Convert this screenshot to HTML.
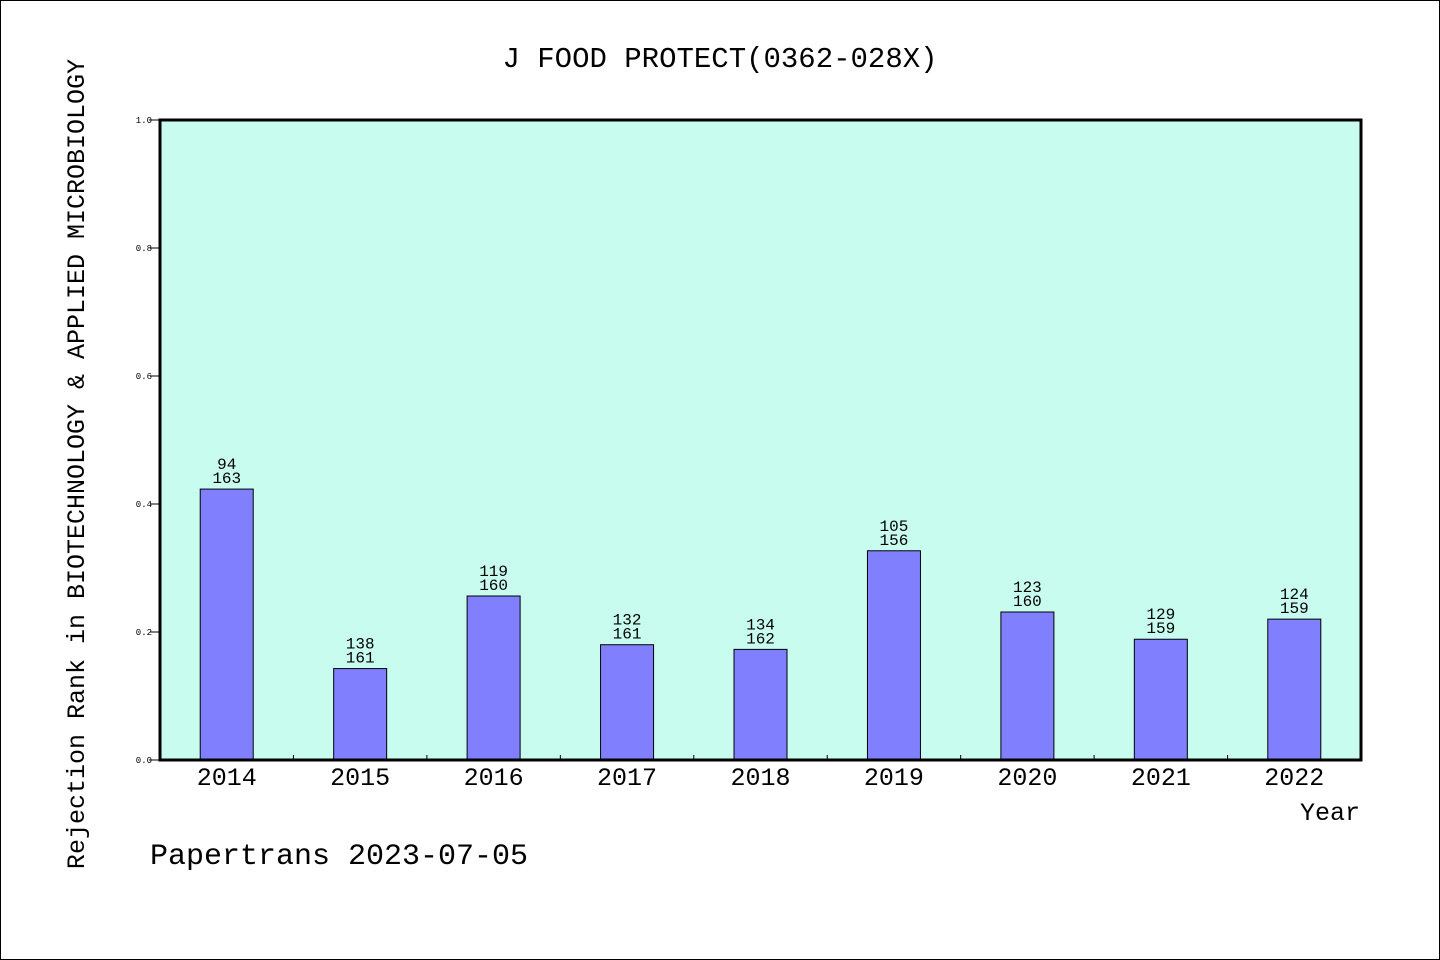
<!DOCTYPE html>
<html><head><meta charset="utf-8"><style>
body{margin:0;background:#fff}
svg{display:block}
text{font-family:"Liberation Mono","WenQuanYi Zen Hei",monospace;fill:#000}
</style></head><body>
<svg id="chart" width="1440" height="960" xmlns="http://www.w3.org/2000/svg">
<rect x="0.5" y="0.5" width="1439" height="959" fill="#fff" stroke="#000"/>
<text x="720" y="67" font-size="29" text-anchor="middle">J FOOD PROTECT(0362-028X)</text>
<rect x="160" y="120" width="1201" height="640" fill="#c8fcef"/>
<g id="yaxis"></g>
<g id="xaxis"></g>
<g id="bars"></g>
<rect x="160" y="120" width="1201" height="640" fill="none" stroke="#000" stroke-width="3"/>
<text x="1360" y="820" font-size="25" text-anchor="end">Year</text>
<text transform="translate(84,464) rotate(-90)" font-size="25" text-anchor="middle">Rejection Rank in BIOTECHNOLOGY &amp; APPLIED MICROBIOLOGY</text>
<text x="150" y="864" font-size="30">Papertrans 2023-07-05</text>
</svg>
<script>
const categories=["2014","2015","2016","2017","2018","2019","2020","2021","2022"];
const ranks=[94,138,119,132,134,105,123,129,124];
const totals=[163,161,160,161,162,156,160,159,159];
const yTicks=[0,0.2,0.4,0.6,0.8,1.0];
const NS="http://www.w3.org/2000/svg";
const X0=160,X1=1361,Y0=760,Y1=120;
const band=(X1-X0)/categories.length;
const xc=i=>X0+band*(i+0.5);
const y=v=>Y0-(Y0-Y1)*v;
function mk(tag,attrs,parent,txt){const e=document.createElementNS(NS,tag);for(const k in attrs)e.setAttribute(k,attrs[k]);if(txt!==undefined)e.textContent=txt;parent.appendChild(e);return e;}
const ya=document.getElementById('yaxis'),xa=document.getElementById('xaxis'),bg=document.getElementById('bars');
yTicks.forEach(t=>{
 const l=mk('line',{x1:X0-10,x2:X0,y1:y(t),y2:y(t),stroke:'#000'},ya);
 
 
 const tx=mk('text',{x:X0-8,y:y(t)+3,'font-size':9,'text-anchor':'end'},ya,t.toFixed(1));
 
 
});
for(let i=1;i<categories.length;i++){
 const l=mk('line',{x1:X0+band*i,x2:X0+band*i,y1:Y0-5,y2:Y0,stroke:'#000'},xa);
 
 
}
categories.forEach((c,i)=>{
 const tx=mk('text',{x:xc(i),y:785,'font-size':25,'text-anchor':'middle'},xa,c);
 
 
 const v=1-ranks[i]/totals[i];
 const b=mk('rect',{x:xc(i)-26.5,y:y(v),width:53,height:Y0-y(v),fill:'#8080ff',stroke:'#000','stroke-width':1},bg);
 
 
 const t1=mk('text',{x:xc(i),y:y(v)-20,'font-size':16,'text-anchor':'middle'},bg,String(ranks[i]));
 
 
 const t2=mk('text',{x:xc(i),y:y(v)-6,'font-size':16,'text-anchor':'middle'},bg,String(totals[i]));
 
 
});
</script>
</body></html>
